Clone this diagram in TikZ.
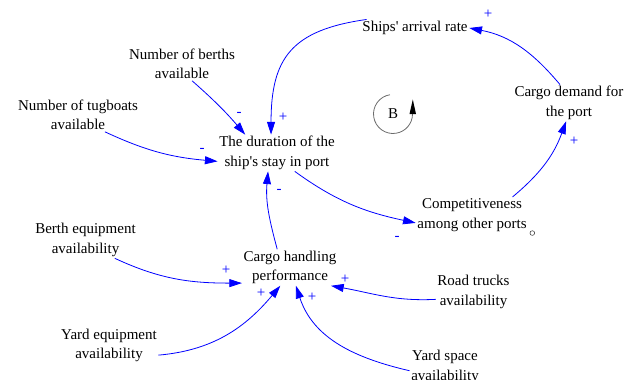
\documentclass[tikz,border=0pt]{standalone}
\usepackage{fontspec}
\setmainfont{Liberation Serif}
\usetikzlibrary{arrows.meta}
\begin{document}
\begin{tikzpicture}[x=0.75pt,y=0.75pt,
  var/.style={align=center,inner sep=1.1pt,font=\fontsize{11.25}{14.6}\selectfont},
  link/.style={draw=blue,line width=0.6pt,-{Triangle[length=9.5pt,width=6pt,fill=blue]}},
  pol/.style={text=blue,inner sep=0pt,font=\fontsize{11.25}{12}\selectfont},
  loopline/.style={draw=gray!85!black,line width=0.6pt}]
\useasboundingbox (0,0) rectangle (641,379);

% variables
\node[var] (ships)  at (415,351)   {Ships\textquotesingle\ arrival rate};
\node[var] (berths) at (182,315)   {Number of berths\\available};
\node[var] (tug)    at (78,264)    {Number of tugboats\\available};
\node[var] (dur)    at (277,226)   {The duration of the\\ship\textquotesingle s stay in port};
\node[var] (demand) at (569,276)   {Cargo demand for\\the port};
\node[var] (comp)   at (472,164)   {Competitiveness\\among other ports};
\node[var] (berthq) at (85.5,139)  {Berth equipment\\availability};
\node[var] (cargo)  at (290,111.5) {Cargo handling\\performance};
\node[var] (road)   at (473.5,87)  {Road trucks\\availability};
\node[var] (yardeq) at (109,33.5)  {Yard equipment\\availability};
\node[var] (yardsp) at (445,12)    {Yard space\\availability};

% small handle circle
\node[draw=black!80,line width=0.4pt,circle,inner sep=0pt,minimum size=3.5pt] (handle) at ([xshift=3]comp.south east) {};

% causal links
\draw[link] (ships.170)  to[out=188,in=90,looseness=1.3] (dur.108);
\draw[link] (berths.-59) to[bend left=4] (dur.150);
\draw[link] (tug.-32)    to[out=-25,in=175] (dur.188);
\draw[link] (demand.116) to[out=130,in=-11] (ships.east);
\draw[link] (comp.24)    to[out=40,in=250] (demand.-99);
\draw[link] (dur.-46)    to[out=-36,in=168] (comp.188);
\draw[link] (cargo.125)  to[out=105,in=-95] (dur.-116);
\draw[link] (berthq.-32) to[out=-25,in=180] (cargo.198);
\draw[link] (yardeq.-11) to[out=5,in=230] (cargo.-118);
\draw[link] (road.191)   to[out=183,in=-10] (cargo.-24);
\draw[link] (yardsp.186) to[out=167,in=-72] (cargo.-72);

% polarities
\node[pol] (s1)  at (283,262) {+};
\node[pol] (s2)  at (239,265) {-};
\node[pol] (s3)  at (202,229) {-};
\node[pol] (s4)  at (488,365) {+};
\node[pol] (s5)  at (574,238) {+};
\node[pol] (s6)  at (397,141) {-};
\node[pol] (s7)  at (279,188) {-};
\node[pol] (s8)  at (226,109) {+};
\node[pol] (s9)  at (261,86)  {+};
\node[pol] (s10) at (345,100) {+};
\node[pol] (s11) at (312,82)  {+};

% balancing loop marker
\node[var] (loopB) at (393,265) {B};
\draw[loopline] (393,265) ++(99:19.5) arc[start angle=99,end angle=360,radius=19.5];
\fill[black] (409.5,265) -- (416,265) -- (412.8,279.5) -- cycle;
\end{tikzpicture}
\end{document}
